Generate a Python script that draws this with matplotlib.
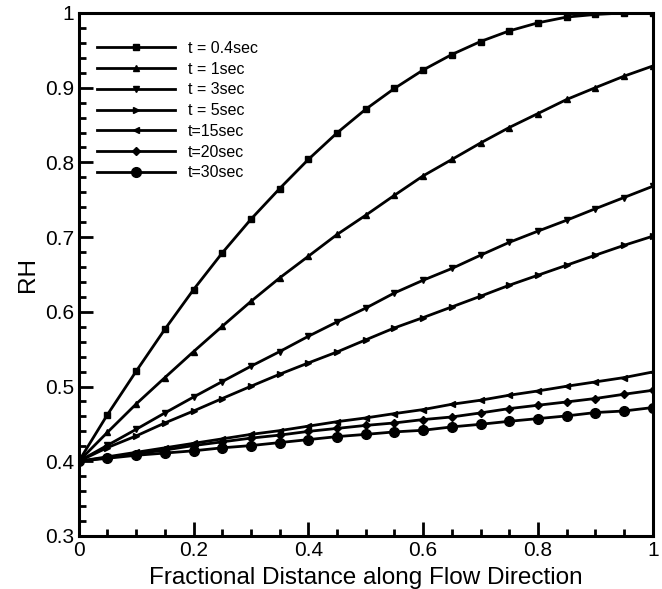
import matplotlib
matplotlib.use("Agg")
import matplotlib.pyplot as plt
from matplotlib.ticker import MultipleLocator

plt.rcParams['font.family'] = ['Liberation Sans', 'DejaVu Sans']

x = [0.0, 0.05, 0.1, 0.15, 0.2, 0.25, 0.3, 0.35, 0.4, 0.45, 0.5,
     0.55, 0.6, 0.65, 0.7, 0.75, 0.8, 0.85, 0.9, 0.95, 1.0]

rh_t04 = [0.4, 0.4625, 0.5205, 0.5767, 0.6298, 0.6789, 0.724, 0.765, 0.804, 0.8395, 0.8712,
          0.899, 0.9237, 0.9444, 0.9618, 0.976, 0.9868, 0.9945, 0.998, 1.0, 1.0]
rh_t1 = [0.4, 0.4388, 0.4767, 0.512, 0.5468, 0.5807, 0.614, 0.6454, 0.6744, 0.7035, 0.7293,
         0.756, 0.782, 0.8039, 0.826, 0.8467, 0.8654, 0.8842, 0.900, 0.9154, 0.929]
rh_t3 = [0.4, 0.4214, 0.4428, 0.4647, 0.486, 0.5067, 0.5272, 0.5468, 0.5673, 0.5865, 0.605,
         0.6253, 0.6423, 0.658, 0.6758, 0.693, 0.708, 0.7226, 0.738, 0.753, 0.768]
rh_t5 = [0.4, 0.4183, 0.4339, 0.4513, 0.4673, 0.484, 0.5004, 0.5165, 0.5316, 0.5463, 0.5625,
         0.5785, 0.5923, 0.6066, 0.6209, 0.6356, 0.649, 0.6624, 0.6758, 0.689, 0.7012]
rh_t15 = [0.4, 0.406, 0.412, 0.418, 0.424, 0.430, 0.436, 0.441, 0.447, 0.453, 0.458,
          0.4638, 0.4692, 0.4763, 0.4817, 0.4884, 0.4941, 0.5004, 0.5062, 0.512, 0.5195]
rh_t20 = [0.4, 0.405, 0.410, 0.415, 0.421, 0.426, 0.431, 0.435, 0.440, 0.444, 0.448,
          0.4513, 0.4558, 0.4593, 0.4647, 0.4705, 0.475, 0.4794, 0.484, 0.4897, 0.495]
rh_t30 = [0.4, 0.404, 0.408, 0.411, 0.414, 0.418, 0.421, 0.425, 0.429, 0.433, 0.436,
          0.4393, 0.4415, 0.446, 0.4495, 0.4535, 0.4571, 0.4607, 0.4652, 0.4673, 0.4719]

labels = ["t = 0.4sec", "t = 1sec", "t = 3sec", "t = 5sec", "t=15sec", "t=20sec", "t=30sec"]
series = [rh_t04, rh_t1, rh_t3, rh_t5, rh_t15, rh_t20, rh_t30]
markers = ['s', '^', 'v', '>', '<', 'D', 'o']
msizes = [5, 5, 5, 5, 5, 4.5, 7]

xticks = [0, 0.2, 0.4, 0.6, 0.8, 1.0]
xticklabels = ['0', '0.2', '0.4', '0.6', '0.8', '1']
yticks = [0.3, 0.4, 0.5, 0.6, 0.7, 0.8, 0.9, 1.0]
yticklabels = ['0.3', '0.4', '0.5', '0.6', '0.7', '0.8', '0.9', '1']

fig = plt.figure(figsize=(6.62, 5.89), dpi=100)
ax = fig.add_axes([0.119, 0.090, 0.867, 0.888])

for y, lab, m, ms in zip(series, labels, markers, msizes):
    ax.plot(x, y, color='black', lw=2.0, marker=m, markersize=ms, label=lab)

ax.set_xlim(0, 1)
ax.set_ylim(0.3, 1)
ax.set_xticks(xticks)
ax.set_xticklabels(xticklabels)
ax.set_yticks(yticks)
ax.set_yticklabels(yticklabels)
ax.xaxis.set_minor_locator(MultipleLocator(0.05))
ax.yaxis.set_minor_locator(MultipleLocator(0.02))
ax.tick_params(which='both', direction='in', top=False, right=False, width=2, labelsize=15)
ax.tick_params(which='major', length=10)
ax.tick_params(which='minor', length=5)
for s in ax.spines.values():
    s.set_linewidth(2.2)

ax.set_xlabel("Fractional Distance along Flow Direction", fontsize=17.5, labelpad=5)
ax.set_ylabel("RH", fontsize=17.5, labelpad=4)

ax.legend(loc='upper left', bbox_to_anchor=(0.015, 0.965), frameon=False, fontsize=11.5,
          handlelength=4.9, labelspacing=0.36, handletextpad=0.8, borderaxespad=0.2)

fig.savefig("out.png", dpi=100)
